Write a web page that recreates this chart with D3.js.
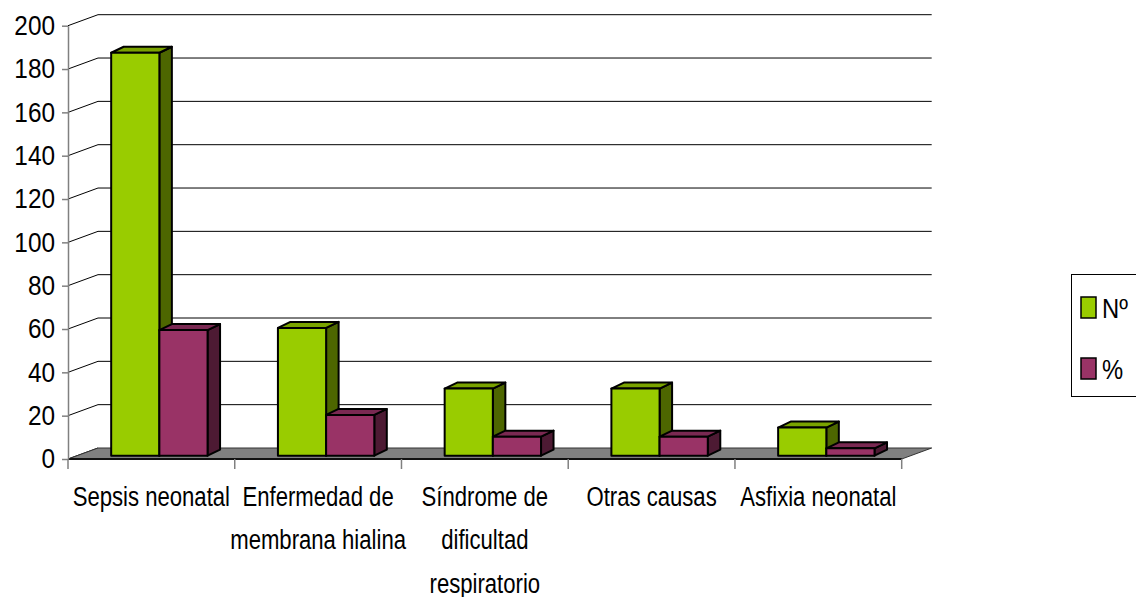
<!DOCTYPE html>
<html>
<head>
<meta charset="utf-8">
<script src="https://cdn.jsdelivr.net/npm/d3@7"></script>
<style>
  body { margin: 0; background: #fff; }
  text { font-family: "Liberation Sans", Arial, sans-serif; fill: #000; }
</style>
</head>
<body>
<div id="chart"></div>
<script>
// data
let categories = ["Sepsis neonatal", "Enfermedad de membrana hialina", "Síndrome de dificultad respiratorio", "Otras causas", "Asfixia neonatal"];
let seriesNames = ["Nº", "%"];
let numValues = [186, 59, 31, 31, 13];
let pctValues = [58, 18.8, 8.8, 8.8, 3.4];
let yTicks = [0, 20, 40, 60, 80, 100, 120, 140, 160, 180, 200];

let W = 1136, H = 597;
let plotLeft = 68, plotRight = 901.7, plotBottom = 459, plotTop = 25.7;
let depth = {x: 30, y: -11};      // floor / wall depth
let barOff = {x: 8, y: -3.3};     // bar front face inside the floor
let barDepth = {x: 12.5, y: -6};
let fontSize = 28;

let colors = {
  "Nº": {front: "#99cc00", top: "#7aa300", side: "#4d6600"},
  "%": {front: "#993366", top: "#7a2952", side: "#4d1a33"}
};

// no narrow font installed, so squeeze text horizontally around its anchor
function squeeze(sel, k) {
  sel.attr("transform", function() {
    let ax = +d3.select(this).attr("x") || 0;
    return "translate(" + ax + ",0) scale(" + k + ",1) translate(" + (-ax) + ",0)";
  });
}

let svg = d3.select("#chart")
  .append("svg")
  .attr("width", W)
  .attr("height", H);

let y = d3.scaleLinear().domain([0, 200]).range([plotBottom, plotTop]);

let x0 = d3.scaleBand()
  .domain(categories)
  .range([plotLeft, plotRight])
  .paddingInner(0.422)
  .paddingOuter(0.211);

let x1 = d3.scaleBand()
  .domain(seriesNames)
  .range([0, x0.bandwidth()]);

// category boundaries for the ticks
let xb = d3.scaleLinear().domain([0, categories.length]).range([plotLeft, plotRight]);

// back wall gridlines
svg.append("g")
  .selectAll("line")
  .data(yTicks.filter(d => d > 0))
  .enter()
  .append("line")
  .attr("x1", plotLeft + depth.x)
  .attr("x2", plotRight + depth.x)
  .attr("y1", d => y(d) + depth.y)
  .attr("y2", d => y(d) + depth.y)
  .attr("stroke", "#000")
  .attr("stroke-width", 1);

// left wall diagonals
svg.append("g")
  .selectAll("line")
  .data(yTicks)
  .enter()
  .append("line")
  .attr("x1", plotLeft)
  .attr("x2", plotLeft + depth.x)
  .attr("y1", d => y(d))
  .attr("y2", d => y(d) + depth.y)
  .attr("stroke", "#000")
  .attr("stroke-width", 1);

function pts(arr) { return arr.map(p => p.join(",")).join(" "); }

// floor
svg.append("polygon")
  .attr("points", pts([[plotLeft, y(0)], [plotLeft + depth.x, y(0) + depth.y],
                       [plotRight + depth.x, y(0) + depth.y], [plotRight, y(0)]]))
  .attr("fill", "#808080")
  .attr("stroke", "#333")
  .attr("stroke-width", 1);
svg.append("line")
  .attr("x1", plotLeft).attr("x2", plotRight)
  .attr("y1", y(0)).attr("y2", y(0))
  .attr("stroke", "#111")
  .attr("stroke-width", 2);

// y axis
let yAxis = svg.append("g")
  .attr("transform", "translate(" + plotLeft + ",0)")
  .call(d3.axisLeft(y).tickValues(yTicks).tickSize(6).tickSizeOuter(0).tickPadding(7));
yAxis.select(".domain").attr("stroke", "#808080").attr("stroke-width", 1.5);
yAxis.selectAll(".tick line").attr("stroke", "#808080").attr("stroke-width", 1.5);
yAxis.attr("font-family", null).attr("font-size", null);
yAxis.selectAll("text")
  .attr("font-size", fontSize + "px")
  .attr("fill", "#000")
  .call(squeeze, 0.87);

// x ticks
svg.append("g")
  .selectAll("line")
  .data(d3.range(categories.length + 1))
  .enter()
  .append("line")
  .attr("x1", d => xb(d))
  .attr("x2", d => xb(d))
  .attr("y1", y(0))
  .attr("y2", y(0) + 10)
  .attr("stroke", "#808080")
  .attr("stroke-width", 1.5);

// x labels, wrapped to about the category width
let xNarrow = 0.79;
let xLabels = svg.append("g")
  .selectAll("text")
  .data(categories)
  .enter()
  .append("text")
  .attr("x", d => x0(d) + x0.bandwidth() / 2)
  .attr("y", 506)
  .attr("text-anchor", "middle")
  .attr("font-size", fontSize + "px")
  .text(d => d);

function wrap(text, width) {
  text.each(function() {
    let t = d3.select(this);
    let words = t.text().split(/\s+/);
    let cx = t.attr("x"), cy = t.attr("y");
    t.text(null);
    let line = [];
    let lineNo = 0;
    let tspan = t.append("tspan").attr("x", cx).attr("y", cy);
    words.forEach(function(w) {
      line.push(w);
      tspan.text(line.join(" "));
      if (tspan.node().getComputedTextLength() * xNarrow > width && line.length > 1) {
        line.pop();
        tspan.text(line.join(" "));
        line = [w];
        lineNo++;
        tspan = t.append("tspan").attr("x", cx).attr("y", +cy + lineNo * 43.5).text(w);
      }
    });
  });
}
xLabels.call(wrap, 176);
xLabels.call(squeeze, xNarrow);

// bars
let barData = [];
categories.forEach(function(c, i) {
  barData.push({cat: c, s: "Nº", v: numValues[i]});
  barData.push({cat: c, s: "%", v: pctValues[i]});
});

let bars = svg.append("g")
  .selectAll("g")
  .data(barData)
  .enter()
  .append("g")
  .attr("stroke", "#000")
  .attr("stroke-width", 2)
  .attr("stroke-linejoin", "round");

bars.each(function(d) {
  let g = d3.select(this);
  let bx = x0(d.cat) + x1(d.s) + barOff.x;
  let bw = x1.bandwidth();
  let yt = y(d.v) + barOff.y;
  let yb = y(0) + barOff.y;
  let dx = barDepth.x, dy = barDepth.y;
  g.append("polygon")
    .attr("points", pts([[bx + bw, yt], [bx + bw + dx, yt + dy], [bx + bw + dx, yb + dy], [bx + bw, yb]]))
    .attr("fill", colors[d.s].side);
  g.append("polygon")
    .attr("points", pts([[bx, yt], [bx + dx, yt + dy], [bx + bw + dx, yt + dy], [bx + bw, yt]]))
    .attr("fill", colors[d.s].top);
  g.append("rect")
    .attr("x", bx)
    .attr("y", yt)
    .attr("width", bw)
    .attr("height", yb - yt)
    .attr("fill", colors[d.s].front);
});

// legend
let legend = svg.append("g");
legend.append("rect")
  .attr("x", 1071.5)
  .attr("y", 274.5)
  .attr("width", 90)
  .attr("height", 122)
  .attr("fill", "none")
  .attr("stroke", "#000")
  .attr("stroke-width", 1);

let legendItems = legend.selectAll("g")
  .data(seriesNames)
  .enter()
  .append("g")
  .attr("transform", (d, i) => "translate(1081," + (297 + i * 61) + ")");
legendItems.append("rect")
  .attr("width", 15)
  .attr("height", 21)
  .attr("fill", d => colors[d].front)
  .attr("stroke", "#000")
  .attr("stroke-width", 1.5);
legendItems.append("text")
  .attr("x", 21)
  .attr("y", 21)
  .attr("font-size", fontSize + "px")
  .text(d => d)
  .call(squeeze, 0.85);
</script>
</body>
</html>
